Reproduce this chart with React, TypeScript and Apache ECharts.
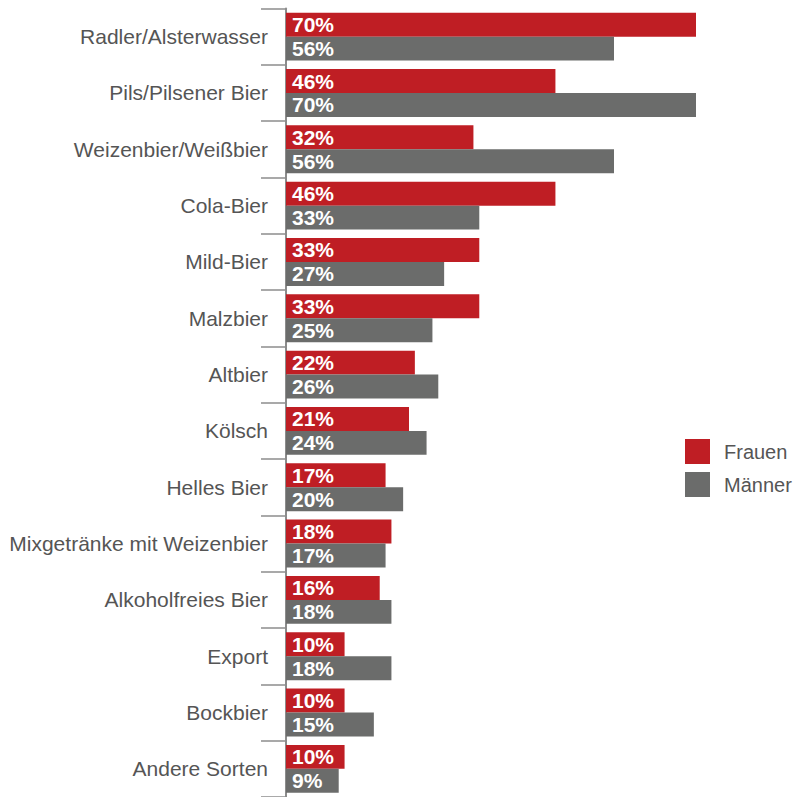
import React, { useEffect, useRef } from "react";
import * as echarts from "echarts";

const categories = [
  "Radler/Alsterwasser",
  "Pils/Pilsener Bier",
  "Weizenbier/Weißbier",
  "Cola-Bier",
  "Mild-Bier",
  "Malzbier",
  "Altbier",
  "Kölsch",
  "Helles Bier",
  "Mixgetränke mit Weizenbier",
  "Alkoholfreies Bier",
  "Export",
  "Bockbier",
  "Andere Sorten",
];
const frauen = [70, 46, 32, 46, 33, 33, 22, 21, 17, 18, 16, 10, 10, 10];
const maenner = [56, 70, 56, 33, 27, 25, 26, 24, 20, 17, 18, 18, 15, 9];
const seriesNames = ["Frauen", "Männer"];

const RED = "#BF1E24";
const GRAY = "#6B6C6B";
const TEXT = "#555555";

export default function App() {
  const ref = useRef<HTMLDivElement>(null);
  useEffect(() => {
    if (!ref.current) return;
    const chart = echarts.init(ref.current, undefined, { renderer: "svg" });
    const label = {
      show: true,
      position: "insideLeft",
      distance: 6,
      formatter: "{c}%",
      color: "#ffffff",
      fontFamily: "Liberation Sans",
      fontWeight: "bold",
      fontSize: 21,
    };
    chart.setOption({
      animation: false,
      backgroundColor: "#ffffff",
      textStyle: { fontFamily: "Liberation Sans" },
      legend: {
        orient: "vertical",
        left: 685,
        top: 439,
        padding: 0,
        itemWidth: 25,
        itemHeight: 25,
        itemGap: 8,
        icon: "rect",
        data: seriesNames,
        textStyle: {
          color: TEXT,
          fontSize: 20,
          fontFamily: "Liberation Sans",
          padding: [0, 0, 0, 9],
        },
      },
      grid: { left: 286, top: 8.5, right: 101, height: 790, containLabel: false },
      xAxis: {
        type: "value",
        min: 0,
        max: 70,
        show: false,
      },
      yAxis: {
        type: "category",
        inverse: true,
        data: categories,
        axisLine: { show: true, lineStyle: { color: "#8C8C8C", width: 2 } },
        axisTick: { show: true, length: 25, lineStyle: { color: "#8C8C8C", width: 1.5 } },
        axisLabel: {
          margin: 18,
          color: TEXT,
          fontSize: 21,
          fontFamily: "Liberation Sans",
        },
      },
      series: [
        {
          name: seriesNames[0],
          type: "bar",
          data: frauen,
          barGap: "0%",
          barCategoryGap: "15%",
          itemStyle: { color: RED },
          label,
        },
        {
          name: seriesNames[1],
          type: "bar",
          data: maenner,
          barGap: "0%",
          barCategoryGap: "15%",
          itemStyle: { color: GRAY },
          label,
        },
      ],
    });
    return () => chart.dispose();
  }, []);
  return (
    <div
      ref={ref}
      style={{ position: "absolute", left: 0, top: 0, width: 797, height: 797 }}
    />
  );
}
